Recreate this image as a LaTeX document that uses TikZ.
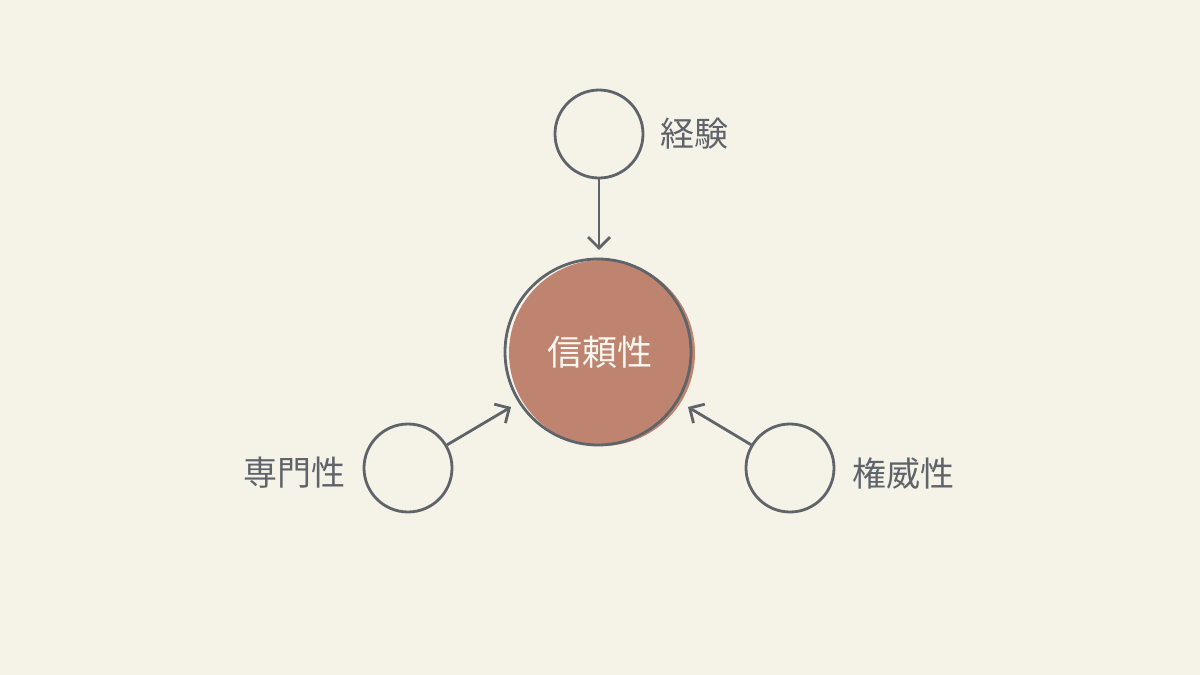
\documentclass[tikz,border=0pt]{standalone}
\usepackage{fontspec}
\newfontfamily\cjk{Noto Sans CJK JP}
\usetikzlibrary{arrows.meta}
\definecolor{bg}{RGB}{245,243,232}
\definecolor{ink}{RGB}{95,100,106}
\definecolor{terra}{RGB}{190,132,112}
\definecolor{paper}{RGB}{248,246,238}
\tikzset{
  small/.style={circle,draw=ink,line width=2.8pt,minimum size=88pt,inner sep=0pt},
  lbl/.style={text=ink,font=\cjk\fontsize{34}{34}\selectfont,inner sep=0pt},
  conn/.style={draw=ink,line width=2.8pt,-{Straight Barb[length=11pt,width=22pt,line width=2.8pt]}}
}
\begin{document}
\begin{tikzpicture}[x=1pt,y=-1pt]
\fill[bg] (0,0) rectangle (1200,675);
\useasboundingbox (0,0) rectangle (1200,675);
% central
\fill[terra] (602,353) circle (93);
\node[circle,draw=ink,line width=2.8pt,minimum size=186pt,inner sep=0pt] (c) at (598,352) {};
\node[text=paper,font=\cjk\fontsize{35}{35}\selectfont,inner sep=0pt] (ct) at (600,352) {信頼性};
% outer nodes
\node[small] (t) at (599,134) {};
\node[small] (l) at (408,468) {};
\node[small] (r) at (790,468) {};
\node[lbl,anchor=west] (tl) at (660,134) {経験};
\node[lbl,anchor=east] (ll) at (346,473) {専門性};
\node[lbl,anchor=west] (rl) at (852,474) {権威性};
% connectors
\coordinate (ta) at (599,250);
\coordinate (la) at (511,407);
\coordinate (ra) at (688,407);
\draw[conn] (t) -- (ta);
\draw[conn] (l) -- (la);
\draw[conn] (r) -- (ra);
\end{tikzpicture}
\end{document}
